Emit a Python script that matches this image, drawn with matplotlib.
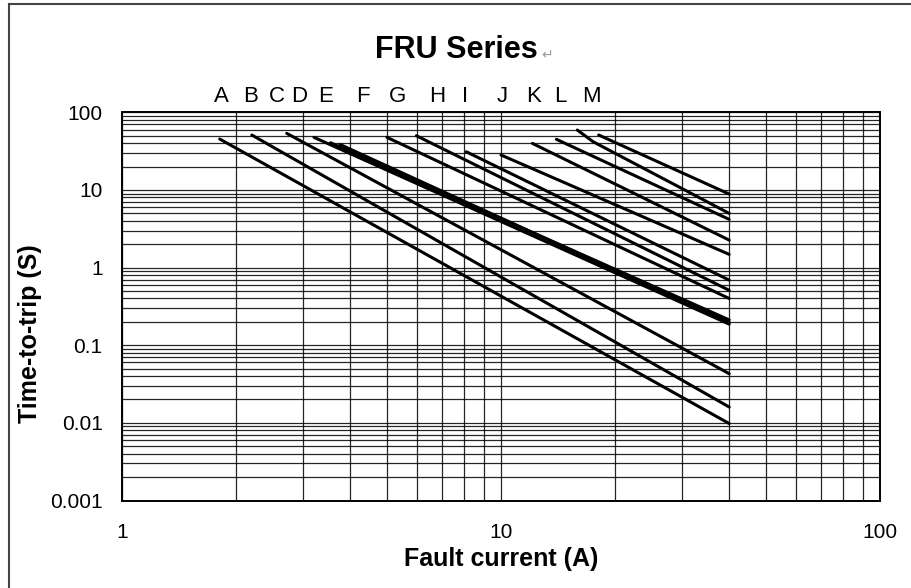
import matplotlib.pyplot as plt
from matplotlib.lines import Line2D
import matplotlib.transforms as mtransforms

plt.rcParams['font.family'] = ['Liberation Sans', 'DejaVu Sans']

# ----------------------------
# Data
# ----------------------------

# trip curves: currents (A) and times (s), one list per curve
curve_currents = [
    [1.81, 40],
    [2.20, 40],
    [2.72, 40],
    [3.21, 40],
    [3.55, 40],
    [3.76, 40],
    [5.0, 40],
    [5.98, 40],
    [8.1, 40],
    [10.0, 40],
    [12.1, 40],
    [14.0, 40],
    [15.9, 17.5, 40],
    [18.1, 40],
]
curve_times = [
    [45.3, 0.0098],
    [51, 0.016],
    [53.6, 0.043],
    [47.6, 0.187],
    [40.5, 0.212],
    [38.5, 0.197],
    [47.6, 0.40],
    [49.9, 0.51],
    [31, 0.69],
    [28.2, 1.48],
    [39.8, 2.26],
    [44.9, 4.18],
    [59.1, 41.8, 4.99],
    [51, 8.85],
]

# letter labels above the plot and the current they sit over
letters = ["A", "B", "C", "D", "E", "F", "G", "H", "I", "J", "K", "L", "M"]
letter_currents = [1.83, 2.18, 2.56, 2.93, 3.44, 4.31, 5.32, 6.79, 8.05, 10.07, 12.2, 14.3, 17.3]

x_ticks = [1, 10, 100]
x_tick_labels = ["1", "10", "100"]
y_ticks = [0.001, 0.01, 0.1, 1, 10, 100]
y_tick_labels = ["0.001", "0.01", "0.1", "1", "10", "100"]

# ----------------------------
# Figure
# ----------------------------

fig = plt.figure(figsize=(9.12, 5.88), dpi=100)
ax = fig.add_axes([0.1338, 0.1488, 0.8311, 0.6602])

ax.set_xscale("log")
ax.set_yscale("log")
ax.set_xlim(1, 100)
ax.set_ylim(0.001, 100)

ax.grid(True, which="both", color="black", linewidth=0.9, alpha=0.85)
ax.set_axisbelow(True)

for xs, ys in zip(curve_currents, curve_times):
    ax.plot(xs, ys, color="black", linewidth=2.2, solid_capstyle="round")

ax.set_xticks(x_ticks)
ax.set_xticklabels(x_tick_labels)
ax.set_yticks(y_ticks)
ax.set_yticklabels(y_tick_labels)
ax.tick_params(axis="both", which="both", length=0, labelsize=15)
ax.tick_params(axis="x", pad=16)
ax.tick_params(axis="y", pad=14)

for s in ax.spines.values():
    s.set_color("black")
    s.set_linewidth(1.4)

ax.set_xlabel("Fault current (A)", fontsize=18, fontweight="bold", labelpad=4)
ax.set_ylabel("Time-to-trip (S)", fontsize=18, fontweight="bold")
ax.yaxis.set_label_coords(-0.106, 0.43)

# letters along the top
trans = mtransforms.blended_transform_factory(ax.transData, ax.transAxes)
for lab, cur in zip(letters, letter_currents):
    ax.text(cur, 1.042, lab, transform=trans, ha="center", va="center", fontsize=16)

# title with the word-processor paragraph mark
fig.text(0.5, 0.915, "FRU Series", ha="center", va="center", fontsize=22, fontweight="bold")
fig.text(0.593, 0.905, "\u21b5", ha="left", va="center", fontsize=10, color="#999999",
         family=["DejaVu Sans"])

# outer frame (left and top edges)
fig.add_artist(Line2D([9 / 912, 9 / 912], [0, 1 - 4 / 588], transform=fig.transFigure,
                      color="#444444", linewidth=1.5))
fig.add_artist(Line2D([9 / 912, 1], [1 - 4 / 588, 1 - 4 / 588], transform=fig.transFigure,
                      color="#444444", linewidth=1.5))

fig.savefig("out.png", dpi=100)
